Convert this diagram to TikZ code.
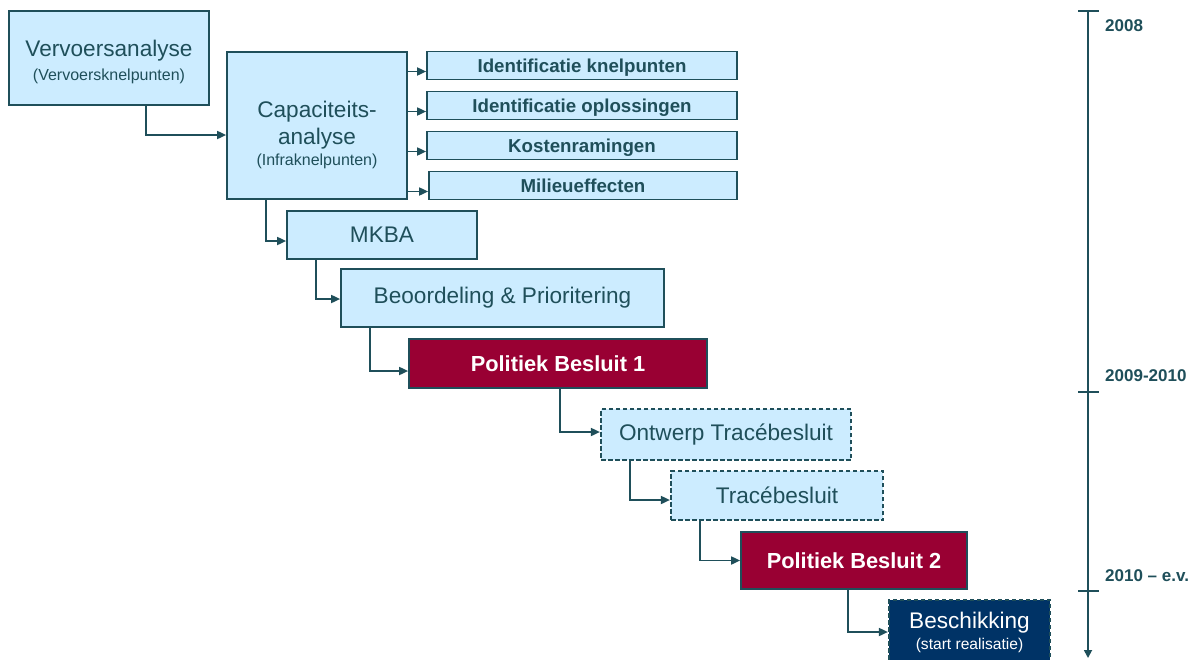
\documentclass[tikz,border=0pt]{standalone}
\usepackage{fontspec}
\setmainfont{Liberation Sans}
\usetikzlibrary{arrows.meta,calc}
\definecolor{dteal}{HTML}{1F4F5A}
\definecolor{lblue}{HTML}{CCECFF}
\definecolor{pbred}{HTML}{990033}
\definecolor{navy}{HTML}{003366}
\begin{document}
\begin{tikzpicture}[x=1pt,y=-1pt,
  box/.style={draw=dteal, line width=1.7pt, fill=lblue, text=dteal, inner sep=0pt, align=center,
              font=\fontsize{22.6}{25}\selectfont},
  subbox/.style={box, font=\bfseries\fontsize{18.7}{20}\selectfont, minimum height=28pt,
                 text height=14pt, text depth=0pt},
  pbbox/.style={box, fill=pbred, text=white, font=\bfseries\fontsize{21.8}{24}\selectfont},
  dbox/.style={box, line width=2.2pt, dash pattern=on 4.5pt off 2.5pt},
  conn/.style={draw=dteal, line width=1.7pt, -{Triangle[length=9pt,width=8pt]}},
  tline/.style={draw=dteal, line width=1.7pt},
  year/.style={text=dteal, font=\bfseries\fontsize{17}{18}\selectfont, anchor=west, inner sep=0pt}
]
\clip (0,0) rectangle (1198,659);
\fill[white] (0,0) rectangle (1198,659);

% boxes
\node[box, minimum width=200pt, minimum height=94pt] (vervoer) at (109,58)
  {\rule{0pt}{24pt}Vervoersanalyse\\[-1pt]{\fontsize{16}{18}\selectfont(Vervoersknelpunten)}};
\node[box, minimum width=180pt, minimum height=147pt] (capac) at (317,125.5)
  {\rule{0pt}{36pt}Capaciteits-\\[2pt]analyse\\[-4pt]{\fontsize{16}{18}\selectfont(Infraknelpunten)}};
\node[subbox, minimum width=310pt] (s1) at (582,65.5) {Identificatie knelpunten};
\node[subbox, minimum width=310pt] (s2) at (582,105.5) {Identificatie oplossingen};
\node[subbox, minimum width=310pt] (s3) at (582,145.5) {Kostenramingen};
\node[subbox, minimum width=308pt] (s4) at (583,185.5) {Milieueffecten};
\node[box, minimum width=190pt, minimum height=48pt] (mkba) at (382,235) {MKBA};
\node[box, minimum width=323pt, minimum height=58pt] (beoord) at (502.5,298) {Beoordeling \& Prioritering};
\node[pbbox, minimum width=298pt, minimum height=49pt] (pb1) at (558,363.5) {Politiek Besluit 1};
\node[dbox, minimum width=250pt, minimum height=51pt] (ontwerp) at (726,434.5) {Ontwerp Tracébesluit};
\node[dbox, minimum width=212pt, minimum height=49pt] (trace) at (777,495.5) {Tracébesluit};
\node[pbbox, minimum width=226pt, minimum height=57pt] (pb2) at (854,560.5) {Politiek Besluit 2};
\node[dbox, fill=navy, text=white, minimum width=161pt, minimum height=64pt] (besch) at (969.5,632)
  {Beschikking\\[-4pt]{\fontsize{15.6}{18}\selectfont(start realisatie)}};

% connectors
\draw[conn] ([xshift=138pt]vervoer.south west) |- ([yshift=-9.5pt]capac.west);
\foreach \s in {s1,s2,s3,s4}
  \draw[conn] ([yshift=-6pt]\s.west -| capac.east) -- ([yshift=-6pt]\s.west);
\draw[conn] ([xshift=40pt]capac.south west) |- ([yshift=-6pt]mkba.west);
\draw[conn] ([xshift=30pt]mkba.south west) |- ([yshift=-1pt]beoord.west);
\draw[conn] ([xshift=30pt]beoord.south west) |- ([yshift=-7.5pt]pb1.west);
\draw[conn] ([xshift=152pt]pb1.south west) |- ([yshift=2.5pt]ontwerp.west);
\draw[conn] ([xshift=30pt]ontwerp.south west) |- ([yshift=-4.5pt]trace.west);
\draw[conn] ([xshift=30pt]trace.south west) |- (pb2.west);
\draw[conn] ([xshift=108pt]pb2.south west) |- (besch.west);

% timeline
\coordinate (ttop) at (1088,11);
\coordinate (tbot) at (1088,658);
\coordinate (t2) at (1088,392);
\coordinate (t3) at (1088,591);
\draw[tline, -{Triangle[length=8pt,width=8pt]}] (ttop) -- (tbot);
\draw[tline] ([xshift=-10pt]ttop) -- ([xshift=11pt]ttop);
\draw[tline] ([xshift=-10pt]t2) -- ([xshift=11pt]t2);
\draw[tline] ([xshift=-10pt]t3) -- ([xshift=11pt]t3);
\node[year] (y1) at (1105,26) {2008};
\node[year] (y2) at (1105,376) {2009-2010};
\node[year] (y3) at (1105,576) {2010 – e.v.};
\end{tikzpicture}
\end{document}
